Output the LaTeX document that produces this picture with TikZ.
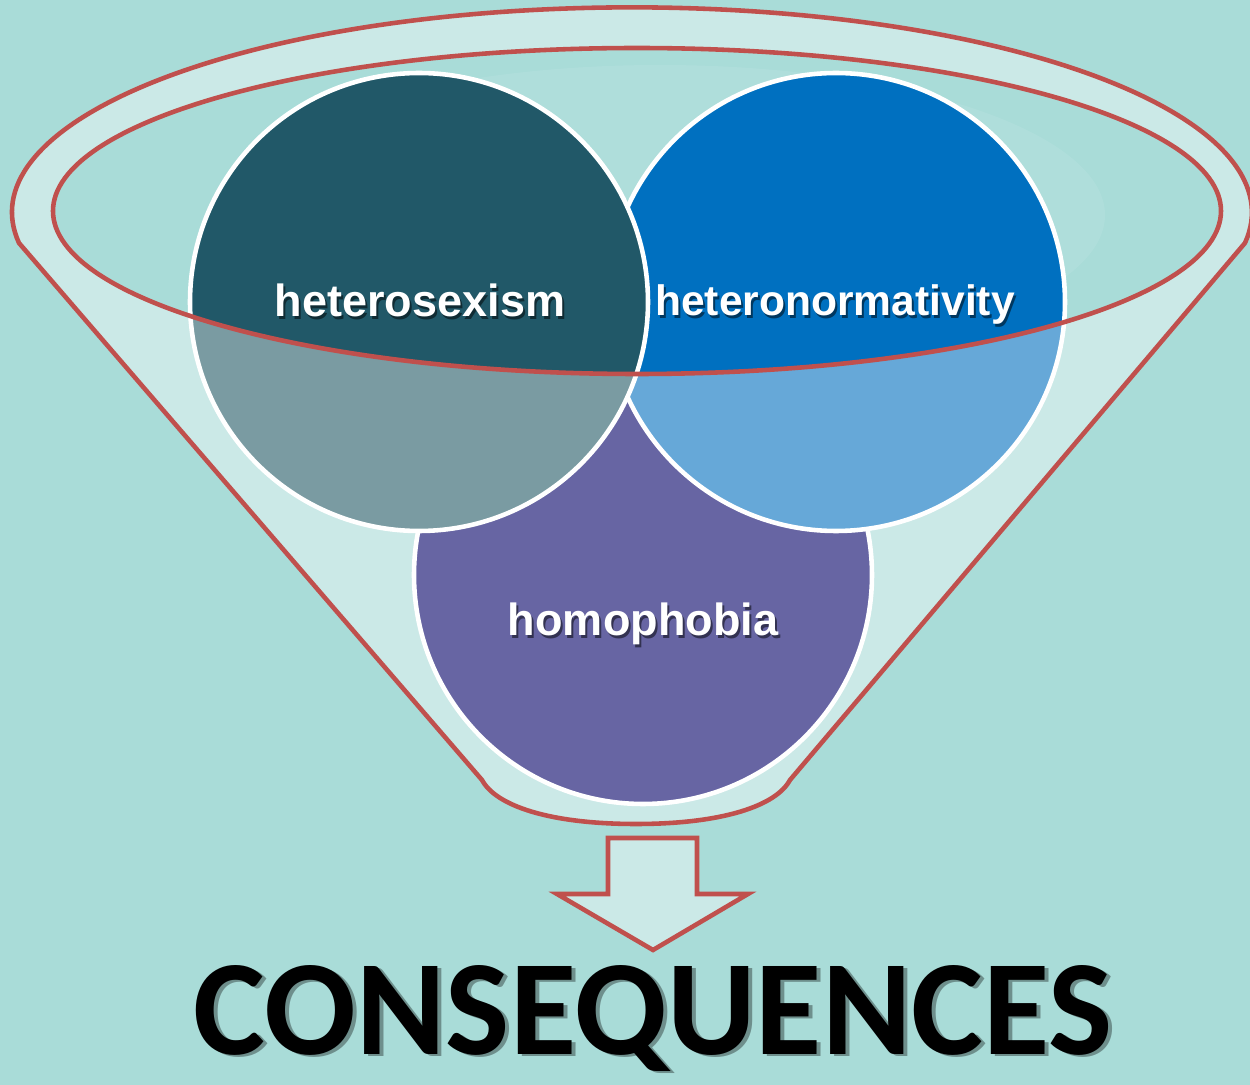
\documentclass[tikz,border=0pt]{standalone}
\usepackage{fontspec}
\setmainfont{Liberation Sans}
\newfontfamily\headfont{Carlito}
\usetikzlibrary{positioning}

\definecolor{bgaqua}{HTML}{A9DCD8}
\definecolor{funnelpale}{HTML}{CBE9E7}
\definecolor{funnelred}{HTML}{C0504D}
\definecolor{glowaqua}{HTML}{B4E0DE}
\definecolor{sexteal}{HTML}{215868}
\definecolor{sexlight}{HTML}{7A9BA2}
\definecolor{normblue}{HTML}{0070C0}
\definecolor{normlight}{HTML}{66A8D8}
\definecolor{phobpurple}{HTML}{6765A3}

\tikzset{
  redline/.style={draw=funnelred, line width=1.3pt},
  ballborder/.style={draw=white, line width=1.3pt},
  balltext/.style={font=\bfseries\fontsize{12.8}{15}\selectfont, text=white, anchor=base, inner sep=0pt},
  balltextshadow/.style={balltext, text=black, opacity=0.5},
  headtext/.style={font=\headfont\bfseries\fontsize{38.6}{44}\selectfont, anchor=base, inner sep=0pt},
}

\begin{document}
\begin{tikzpicture}[x=0.01cm, y=-0.01cm]
    % canvas (pixel units, y down)
    \fill[bgaqua] (0,0) rectangle (1250,1085);
    \useasboundingbox (0,0) rectangle (1250,1085);
    \pgfmathsetmacro{\rball}{229}

    % Funnel body
    \path[redline, fill=funnelpale] (482,780) -- (19,243)
      arc[start angle=171.4, end angle=368.6, x radius=620, y radius=205]
      -- (790,780) .. controls (776,806) and (722,824) .. (636,824)
      .. controls (550,824) and (496,806) .. (482,780) -- cycle;

    % Funnel opening
    \fill[bgaqua] (637,211) ellipse[x radius=584, y radius=163];
    \fill[glowaqua, opacity=0.6] (660,215) ellipse[x radius=445, y radius=150];

    % Bottom ball
    \draw[ballborder, fill=phobpurple] (643,575) circle[radius=\rball];

    % Top balls: pale below the rim, dark inside it
    \foreach \cx/\lite/\dark in {836/normlight/normblue, 419/sexlight/sexteal} {
      \fill[\lite] (\cx,302) circle[radius=\rball];
      \begin{scope}
        \clip (637,211) ellipse[x radius=584, y radius=163];
        \fill[\dark] (\cx,302) circle[radius=\rball];
      \end{scope}
      \draw[ballborder] (\cx,302) circle[radius=\rball];
    }

    % Rim of the opening
    \draw[redline] (637,211) ellipse[x radius=584, y radius=163];

    % Labels
    \node[balltextshadow] (hsex-sh) at (422,320) {heterosexism};
    \node[balltext] (hsex) at (420,317) {heterosexism};
    \node[balltextshadow, font=\bfseries\fontsize{12.1}{15}\selectfont] (hnorm-sh) at (837,319) {heteronormativity};
    \node[balltext, font=\bfseries\fontsize{12.1}{15}\selectfont] (hnorm) at (835,316) {heteronormativity};
    \node[balltextshadow] (hphob-sh) at (645,639) {homophobia};
    \node[balltext] (hphob) at (643,636) {homophobia};

    % Block arrow
    \draw[redline, fill=funnelpale, line join=miter] (608,838) -- (697,838) -- (697,894)
      -- (748,894) -- (653,950) -- (557,894) -- (608,894) -- cycle;

    % Heading
    \node[headtext, text=black, opacity=0.35] (conseq-sh) at (657,1057) {CONSEQUENCES};
    \node[headtext, text=black] (conseq) at (653,1055) {CONSEQUENCES};
\end{tikzpicture}
\end{document}
